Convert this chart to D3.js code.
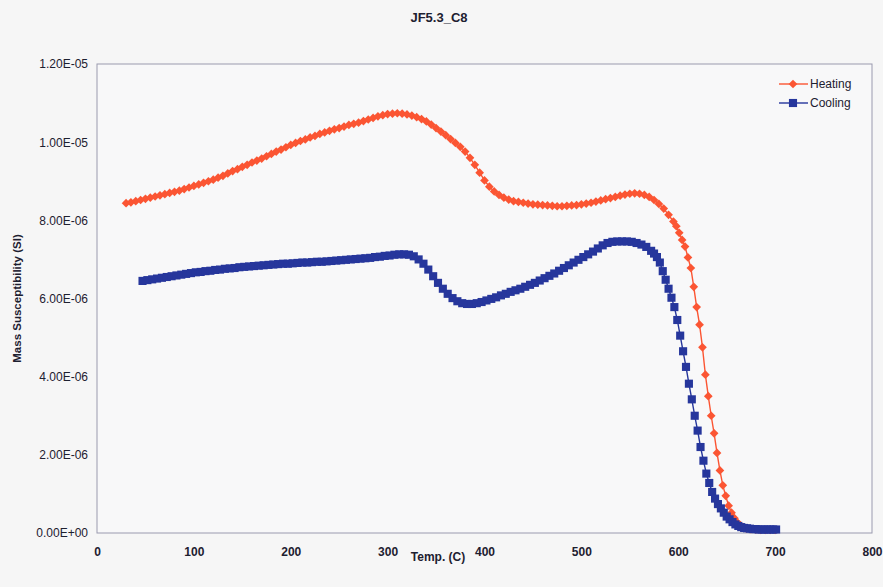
<!DOCTYPE html>
<html>
<head>
<meta charset="utf-8">
<script src="https://cdn.jsdelivr.net/npm/d3@7"></script>
<style>
  html, body { margin: 0; padding: 0; background: #f6f6f6; }
  text { font-family: "Liberation Sans", Arial, sans-serif; fill: #1d2030; }
</style>
</head>
<body>
<div class="d3"></div>
<script>
const chartTitle = 'JF5.3_C8';
const xLabel = 'Temp. (C)';
const yLabel = 'Mass Susceptibility (SI)';
const seriesNames = ['Heating', 'Cooling'];
const xTicks = [0, 100, 200, 300, 400, 500, 600, 700, 800];
const yTicks = [0, 2e-6, 4e-6, 6e-6, 8e-6, 1e-5, 1.2e-5];
const yTickLabels = ['0.00E+00', '2.00E-06', '4.00E-06', '6.00E-06', '8.00E-06', '1.00E-05', '1.20E-05'];

// heating run: temperature (C) and susceptibility (x1e-6 SI)
const heatingTemp = [
  30, 35, 40, 45, 50, 55, 60, 65, 70, 75, 80, 85, 90, 95, 100, 105, 110, 115, 120, 125,
  130, 135, 140, 145, 150, 155, 160, 165, 170, 175, 180, 185, 190, 195, 200, 205, 210, 215, 220, 225,
  230, 235, 240, 245, 250, 255, 260, 265, 270, 275, 280, 285, 290, 295, 300, 305, 310, 315, 320, 325,
  330, 335, 340, 345, 350, 355, 360, 365, 370, 375, 380, 385, 390, 395, 400, 405, 410, 415, 420, 425,
  430, 435, 440, 445, 450, 455, 460, 465, 470, 475, 480, 485, 490, 495, 500, 505, 510, 515, 520, 525,
  530, 535, 540, 545, 550, 555, 560, 565, 570, 575, 580, 585, 590, 595, 598, 601, 604, 607, 610, 613,
  616, 619, 622, 625, 628, 631, 634, 637, 640, 643, 646, 649, 652, 655, 658, 661, 664, 667, 670, 675,
  680, 685, 690, 695, 700
];
const heatingValue = [
  8.44, 8.46, 8.49, 8.52, 8.55, 8.58, 8.61, 8.64, 8.67, 8.70, 8.73, 8.76, 8.80, 8.84, 8.88, 8.92, 8.96, 9.00, 9.04, 9.09,
  9.14, 9.20, 9.26, 9.31, 9.37, 9.42, 9.48, 9.53, 9.58, 9.64, 9.70, 9.76, 9.81, 9.87, 9.93, 9.98, 10.03, 10.07, 10.12, 10.16,
  10.21, 10.25, 10.29, 10.33, 10.36, 10.40, 10.44, 10.47, 10.50, 10.54, 10.58, 10.62, 10.66, 10.69, 10.72, 10.73, 10.74, 10.73, 10.71, 10.68,
  10.64, 10.59, 10.53, 10.45, 10.36, 10.27, 10.18, 10.08, 9.98, 9.88, 9.76, 9.60, 9.42, 9.22, 9.02, 8.86, 8.74, 8.65, 8.58, 8.53,
  8.49, 8.47, 8.45, 8.43, 8.41, 8.40, 8.39, 8.38, 8.37, 8.36, 8.36, 8.37, 8.38, 8.39, 8.41, 8.43, 8.45, 8.48, 8.51, 8.54,
  8.57, 8.60, 8.63, 8.66, 8.68, 8.69, 8.68, 8.65, 8.60, 8.52, 8.42, 8.30, 8.14, 7.97, 7.85, 7.68, 7.50, 7.33, 7.05, 6.78,
  6.30, 5.78, 5.33, 4.75, 4.05, 3.50, 3.00, 2.55, 2.05, 1.60, 1.22, 0.95, 0.70, 0.52, 0.38, 0.27, 0.20, 0.15, 0.12, 0.10,
  0.09, 0.08, 0.08, 0.08, 0.08
];

// cooling run
const coolingTemp = [
  47, 52, 57, 62, 67, 72, 77, 82, 87, 92, 97, 102, 107, 112, 117, 122, 127, 132, 137, 142,
  147, 152, 157, 162, 167, 172, 177, 182, 187, 192, 197, 202, 207, 212, 217, 222, 227, 232, 237, 242,
  247, 252, 257, 262, 267, 272, 277, 282, 287, 292, 297, 302, 307, 312, 317, 322, 327, 332, 337, 342,
  347, 352, 357, 362, 367, 372, 377, 382, 387, 392, 397, 402, 407, 412, 417, 422, 427, 432, 437, 442,
  447, 452, 457, 462, 467, 472, 477, 482, 487, 492, 497, 502, 507, 512, 517, 522, 527, 532, 537, 542,
  547, 552, 557, 562, 567, 572, 575, 578, 581, 584, 587, 590, 593, 596, 599, 602, 605, 608, 611, 614,
  617, 620, 623, 626, 629, 632, 635, 638, 641, 644, 647, 650, 653, 656, 659, 662, 665, 668, 671, 674,
  677, 680, 683, 686, 689, 692, 695, 698, 701
];
const coolingValue = [
  6.45, 6.47, 6.49, 6.51, 6.53, 6.55, 6.57, 6.59, 6.61, 6.63, 6.65, 6.67, 6.68, 6.70, 6.71, 6.73, 6.74, 6.76, 6.77, 6.78,
  6.80, 6.81, 6.82, 6.83, 6.84, 6.85, 6.86, 6.87, 6.88, 6.89, 6.89, 6.90, 6.91, 6.92, 6.92, 6.93, 6.94, 6.94, 6.95, 6.96,
  6.97, 6.98, 6.99, 7.00, 7.01, 7.02, 7.03, 7.04, 7.06, 7.07, 7.09, 7.10, 7.12, 7.13, 7.13, 7.12, 7.08, 7.00, 6.89, 6.74,
  6.57, 6.40, 6.25, 6.12, 6.01, 5.93, 5.88, 5.86, 5.86, 5.88, 5.91, 5.95, 5.99, 6.03, 6.08, 6.12, 6.17, 6.21, 6.25, 6.30,
  6.35, 6.40, 6.46, 6.52, 6.58, 6.64, 6.71, 6.78, 6.85, 6.92, 6.99, 7.06, 7.13, 7.20, 7.28, 7.36, 7.42, 7.45, 7.46, 7.46,
  7.46, 7.45, 7.42, 7.38, 7.32, 7.22, 7.15, 7.06, 6.92, 6.70, 6.48, 6.25, 6.02, 5.78, 5.45, 5.05, 4.65, 4.25, 3.82, 3.42,
  3.00, 2.62, 2.20, 1.85, 1.52, 1.28, 1.05, 0.88, 0.74, 0.63, 0.52, 0.42, 0.35, 0.28, 0.22, 0.18, 0.15, 0.13, 0.12, 0.11,
  0.10, 0.10, 0.09, 0.09, 0.09, 0.09, 0.09, 0.09, 0.09
];

const seriesColors = ['#fb5533', '#26369c'];

(() => {
  let width = 883;
  let height = 587;
  let margin = { top: 64, right: 11, bottom: 54, left: 97 };

  let svg = d3
    .select('.d3')
    .append('svg')
    .attr('width', width)
    .attr('height', height);

  svg.append('rect')
    .attr('width', width)
    .attr('height', height)
    .attr('fill', '#f6f6f6');

  let x = d3.scaleLinear().domain([0, 800]).range([margin.left, width - margin.right]);
  let y = d3.scaleLinear().domain([0, 1.2e-5]).range([height - margin.bottom, margin.top]);

  // plot frame
  svg.append('rect')
    .attr('x', x(0))
    .attr('y', y(1.2e-5))
    .attr('width', x(800) - x(0))
    .attr('height', y(0) - y(1.2e-5))
    .attr('fill', '#f8f8f9')
    .attr('stroke', '#9a9aae')
    .attr('stroke-width', 1);

  let xAxis = svg.append('g')
    .attr('transform', `translate(0,${y(0)})`)
    .call(d3.axisBottom(x).tickValues(xTicks).tickSize(0).tickPadding(14));
  xAxis.select('.domain').remove();
  xAxis.selectAll('text').attr('font-size', 12).attr('font-weight', 'bold').attr('fill', '#222');

  let yAxis = svg.append('g')
    .attr('transform', `translate(${x(0)},0)`)
    .call(d3.axisLeft(y).tickValues(yTicks).tickSize(0).tickPadding(9)
      .tickFormat((d, i) => yTickLabels[i]));
  yAxis.select('.domain').remove();
  yAxis.selectAll('text').attr('font-size', 12).attr('fill', '#222');

  svg.append('text')
    .attr('x', 439)
    .attr('y', 22)
    .attr('text-anchor', 'middle')
    .attr('font-size', 13)
    .attr('font-weight', 'bold')
    .text(chartTitle);

  svg.append('text')
    .attr('x', 438)
    .attr('y', 561)
    .attr('text-anchor', 'middle')
    .attr('font-size', 12)
    .attr('font-weight', 'bold')
    .text(xLabel);

  svg.append('text')
    .attr('transform', `translate(21,${(y(0) + y(1.2e-5)) / 2}) rotate(-90)`)
    .attr('text-anchor', 'middle')
    .attr('font-size', 11.5)
    .attr('font-weight', 'bold')
    .text(yLabel);

  let heating = heatingTemp.map((t, i) => [t, heatingValue[i] * 1e-6]);
  let cooling = coolingTemp.map((t, i) => [t, coolingValue[i] * 1e-6]);

  let line = d3.line().x(d => x(d[0])).y(d => y(d[1]));
  let diamond = d3.symbol().type(d3.symbolSquare).size(38);
  let square = d3.symbol().type(d3.symbolSquare).size(66);

  let series = [
    { name: seriesNames[0], data: heating, color: seriesColors[0], shape: diamond, rot: 45 },
    { name: seriesNames[1], data: cooling, color: seriesColors[1], shape: square, rot: 0 }
  ];

  // cooling drawn on top of heating, like the original
  series.forEach(s => {
    let g = svg.append('g');
    g.append('path')
      .datum(s.data)
      .attr('fill', 'none')
      .attr('stroke', s.color)
      .attr('stroke-width', 1.4)
      .attr('d', line);
    g.selectAll('path.mark')
      .data(s.data)
      .enter()
      .append('path')
      .attr('class', 'mark')
      .attr('d', s.shape)
      .attr('fill', s.color)
      .attr('transform', d => `translate(${x(d[0])},${y(d[1])}) rotate(${s.rot})`);
  });

  // legend
  let legend = svg.append('g');
  series.forEach((s, i) => {
    let ly = 84 + i * 19;
    legend.append('line')
      .attr('x1', 779).attr('x2', 808)
      .attr('y1', ly).attr('y2', ly)
      .attr('stroke', s.color)
      .attr('stroke-width', 1.4);
    legend.append('path')
      .attr('d', s.shape)
      .attr('fill', s.color)
      .attr('transform', `translate(793,${ly}) rotate(${s.rot})`);
    legend.append('text')
      .attr('x', 810)
      .attr('y', ly + 4)
      .attr('font-size', 12)
      .text(s.name);
  });
})();
</script>
</body>
</html>
